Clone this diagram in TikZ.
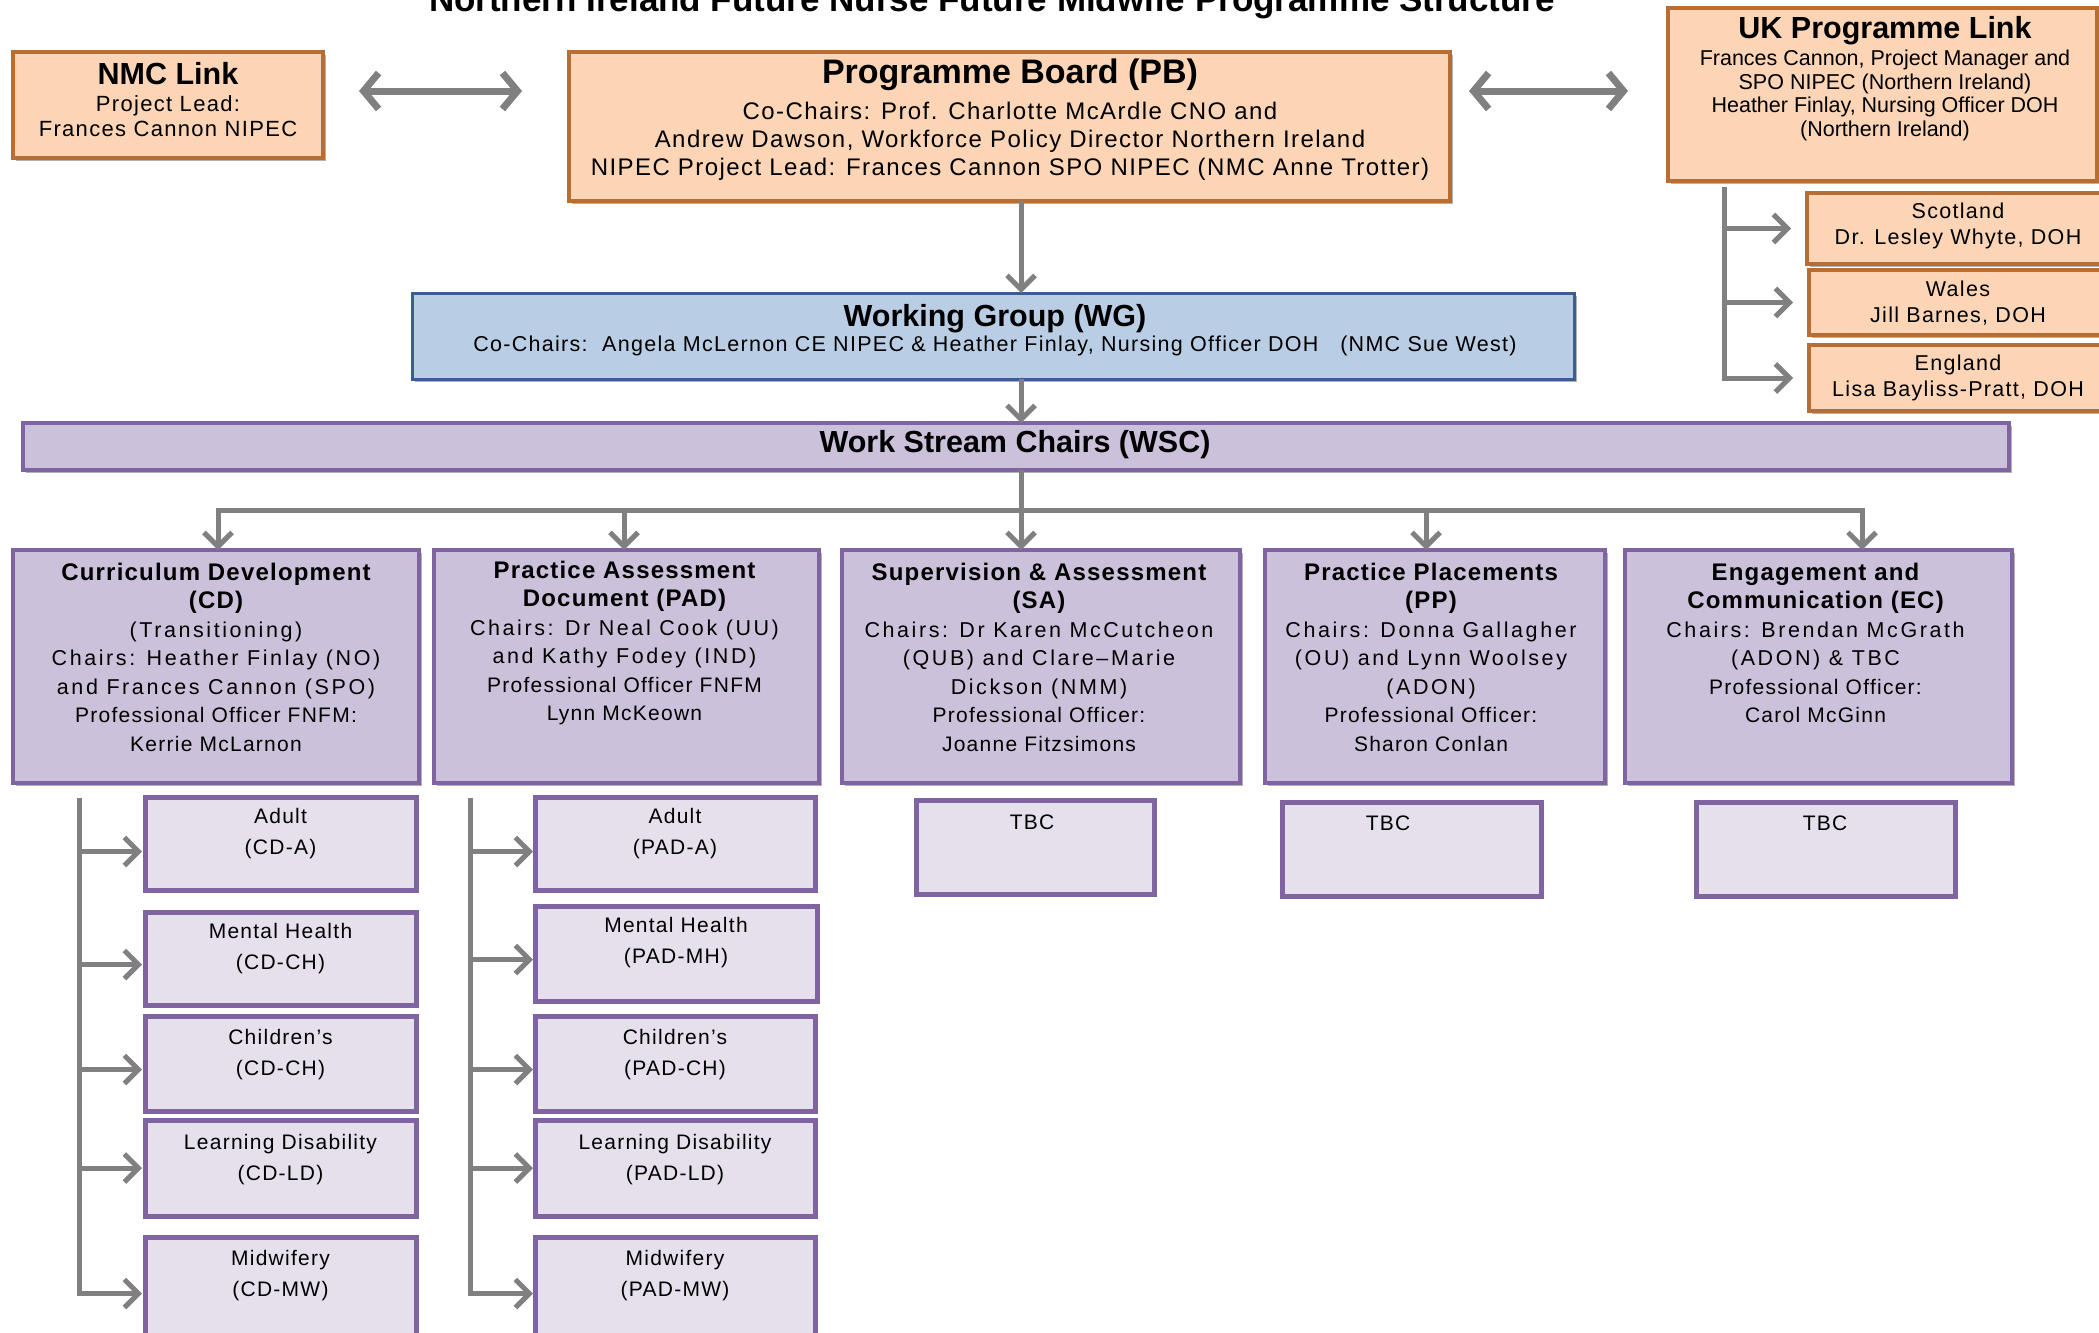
\documentclass[tikz,border=0pt]{standalone}
\usepackage{fontspec}
\setmainfont{Liberation Sans}
\newfontfamily\fnHd{Liberation Sans}[LetterSpace=5]
\newfontfamily\fnCh{Liberation Sans}[LetterSpace=12]
\newfontfamily\fnPo{Liberation Sans}[LetterSpace=6]
\usetikzlibrary{arrows.meta,calc,shadows}

\definecolor{orfill}{HTML}{FBD5B5}
\definecolor{ordraw}{HTML}{B86E33}
\definecolor{blfill}{HTML}{B9CDE5}
\definecolor{bldraw}{HTML}{3A5F8E}
\definecolor{pufill}{HTML}{CCC1DA}
\definecolor{pudraw}{HTML}{8064A2}
\definecolor{sufill}{HTML}{E5E0EC}
\definecolor{argray}{HTML}{808080}

\newcommand\bx[6]{\node[#2, minimum width={#5-#3}, minimum height={#6-#4}] (#1) at ({(#3+#5)/2},{(#4+#6)/2}) {};}
\newcommand\lnH[1]{{\fnHd\bfseries\fontsize{24}{28.5}\selectfont #1}}
\newcommand\lnC[1]{{\fnCh\fontsize{21.5}{28.5}\selectfont #1}}
\newcommand\lnP[1]{{\fnPo\fontsize{21}{28.5}\selectfont #1}}

\begin{document}
\begin{tikzpicture}[x=1pt,y=-1pt,
  shd/.style={drop shadow={shadow xshift=2.5pt,shadow yshift=-2.5pt,opacity=0.3,fill=black}},
  bxbase/.style={rectangle, inner sep=0pt, outer sep=0pt, shd},
  obox/.style={bxbase, fill=orfill, draw=ordraw, line width=3.5pt},
  bbox/.style={bxbase, fill=blfill, draw=bldraw, line width=3pt},
  pbox/.style={bxbase, fill=pufill, draw=pudraw, line width=4pt},
  sbox/.style={bxbase, fill=sufill, draw=pudraw, line width=5pt},
  txt/.style={inner sep=0pt, outer sep=0pt, align=center, text=black},
  conn/.style={draw=argray, line width=5pt},
  arr/.style={conn, -{Straight Barb[length=14pt,width=28pt]}},
  darr/.style={draw=argray, line width=7pt, {Straight Barb[length=15pt,width=36pt]}-{Straight Barb[length=15pt,width=36pt]}},
  hd/.style={txt, font=\bfseries\fontsize{30.5}{34}\selectfont}
]
\fill[white] (0,0) rectangle (2099,1333);
\useasboundingbox (0,0) rectangle (2099,1333);

% title
\node[txt, anchor=base, font=\bfseries\fontsize{35}{40}\selectfont] (title) at (992,12) {Northern Ireland Future Nurse Future Midwife Programme Structure};

% top row
\bx{nmc}{obox}{13}{52}{323}{158}
\bx{pb}{obox}{569}{52}{1450}{201}
\bx{uk}{obox}{1668}{8}{2097}{181}
\bx{sco}{obox}{1807}{193}{2112}{264}
\bx{wal}{obox}{1809}{270}{2112}{335}
\bx{eng}{obox}{1809}{345}{2112}{411}

\node[hd] (nmch) at (168,74) {NMC Link};
\node[txt, anchor=north, font=\fnPo\fontsize{22}{25}\selectfont] (nmcb) at (168,96) {Project Lead:\\Frances Cannon NIPEC};

\node[txt, font=\bfseries\fontsize{34}{38}\selectfont] (pbh) at (1010,75) {Programme Board (PB)};
\node[txt, anchor=north, font=\fnPo\fontsize{24}{28}\selectfont] (pbb) at (1010,102) {Co-Chairs: Prof. Charlotte McArdle CNO and\\Andrew Dawson, Workforce Policy Director Northern Ireland\\NIPEC Project Lead: Frances Cannon SPO NIPEC (NMC Anne Trotter)};

\node[hd] (ukh) at (1885,31) {UK Programme Link};
\node[txt, anchor=north, font=\fontsize{21.5}{23.5}\selectfont] (ukb) at (1885,50) {Frances Cannon, Project Manager and\\SPO NIPEC (Northern Ireland)\\Heather Finlay, Nursing Officer DOH\\(Northern Ireland)};

\node[txt, anchor=north, font=\fnPo\fontsize{21.5}{25.5}\selectfont] (scot) at (1958,203) {Scotland\\Dr. Lesley Whyte, DOH};
\node[txt, anchor=north, font=\fnPo\fontsize{21.5}{25.5}\selectfont] (walt) at (1958,281) {Wales\\Jill Barnes, DOH};
\node[txt, anchor=north, font=\fnPo\fontsize{21.5}{25.5}\selectfont] (engt) at (1958,355) {England\\Lisa Bayliss-Pratt, DOH};

% working group and work stream chairs
\bx{wg}{bbox}{412}{293}{1574}{379}
\node[hd] (wgh) at (995,319) {Working Group (WG)};
\node[txt, font=\fnPo\fontsize{21.5}{25}\selectfont] (wgb) at (995,346) {Co-Chairs:\ \ Angela McLernon CE NIPEC \& Heather Finlay, Nursing Officer DOH\ \ \ (NMC Sue West)};

\bx{wsc}{pbox}{23}{423}{2009}{470}
\node[hd] (wsch) at (1015,445) {Work Stream Chairs (WSC)};

% work streams
\bx{cd}{pbox}{13}{550}{419}{783}
\bx{pad}{pbox}{434}{550}{819}{783}
\bx{sa}{pbox}{842}{550}{1240}{783}
\bx{pp}{pbox}{1265}{550}{1605}{783}
\bx{ec}{pbox}{1625}{550}{2012}{783}

\begin{scope}[every node/.append style={txt, anchor=north, font=\fontsize{21.5}{28.5}\selectfont}]
\node (cdt) at ($(cd.north)+(0,13)$) {\lnH{Curriculum Development}\\\lnH{(CD)}\\\lnC{(Transitioning)}\\\lnC{Chairs: Heather Finlay (NO)}\\\lnC{and Frances Cannon (SPO)}\\\lnP{Professional Officer FNFM:}\\\lnP{Kerrie McLarnon}};
\node (padt) at ($(pad.north)+(-2,11)$) {\lnH{Practice Assessment}\\\lnH{Document (PAD)}\\\lnC{Chairs: Dr Neal Cook (UU)}\\\lnC{and Kathy Fodey (IND)}\\\lnP{Professional Officer FNFM}\\\lnP{Lynn McKeown}};
\node (sat) at ($(sa.north)+(-2,13)$) {\lnH{Supervision \& Assessment}\\\lnH{(SA)}\\\lnC{Chairs: Dr Karen McCutcheon}\\\lnC{(QUB) and Clare–Marie}\\\lnC{Dickson (NMM)}\\\lnP{Professional Officer:}\\\lnP{Joanne Fitzsimons}};
\node (ppt) at ($(pp.north)+(-4,13)$) {\lnH{Practice Placements}\\\lnH{(PP)}\\\lnC{Chairs: Donna Gallagher}\\\lnC{(OU) and Lynn Woolsey}\\\lnC{(ADON)}\\\lnP{Professional Officer:}\\\lnP{Sharon Conlan}};
\node (ect) at ($(ec.north)+(-3,13)$) {\lnH{Engagement and}\\\lnH{Communication (EC)}\\\lnC{Chairs: Brendan McGrath}\\\lnC{(ADON) \& TBC}\\\lnP{Professional Officer:}\\\lnP{Carol McGinn}};
\end{scope}

% sub boxes
\bx{cda}{sbox}{145}{797}{416}{890}
\bx{cdm}{sbox}{145}{912}{416}{1005}
\bx{cdc}{sbox}{145}{1016}{416}{1111}
\bx{cdl}{sbox}{145}{1120}{416}{1216}
\bx{cdw}{sbox}{145}{1237}{416}{1350}
\bx{pada}{sbox}{535}{797}{815}{890}
\bx{padm}{sbox}{535}{906}{817}{1001}
\bx{padc}{sbox}{535}{1016}{815}{1111}
\bx{padl}{sbox}{535}{1120}{815}{1216}
\bx{padw}{sbox}{535}{1237}{815}{1350}
\bx{satbc}{sbox}{916}{800}{1154}{894}
\bx{pptbc}{sbox}{1282}{802}{1541}{896}
\bx{ectbc}{sbox}{1696}{802}{1955}{896}

\begin{scope}[every node/.append style={txt, anchor=north, font=\fnPo\fontsize{21}{31}\selectfont}]
\node (cdat) at ($(cda.north)+(0,11)$) {Adult\\(CD-A)};
\node (cdmt) at ($(cdm.north)+(0,11)$) {Mental Health\\(CD-CH)};
\node (cdct) at ($(cdc.north)+(0,13)$) {Children’s\\(CD-CH)};
\node (cdlt) at ($(cdl.north)+(0,14)$) {Learning Disability\\(CD-LD)};
\node (cdwt) at ($(cdw.north)+(0,13)$) {Midwifery\\(CD-MW)};
\node (padat) at ($(pada.north)+(0,11)$) {Adult\\(PAD-A)};
\node (padmt) at ($(padm.north)+(0,11)$) {Mental Health\\(PAD-MH)};
\node (padct) at ($(padc.north)+(0,13)$) {Children’s\\(PAD-CH)};
\node (padlt) at ($(padl.north)+(0,14)$) {Learning Disability\\(PAD-LD)};
\node (padwt) at ($(padw.north)+(0,13)$) {Midwifery\\(PAD-MW)};
\end{scope}
\begin{scope}[every node/.append style={txt, font=\fnPo\fontsize{21}{25}\selectfont}]
\node (satbct) at (1032,822) {TBC};
\node (pptbct) at (1388,823) {TBC};
\node (ectbct) at (1825,823) {TBC};
\end{scope}

% connectors
\coordinate (l1) at (359,91);
\coordinate (l2) at (522,91);
\coordinate (r1) at (1469,91);
\coordinate (r2) at (1628,91);
\draw[darr] (l1) -- (l2);
\draw[darr] (r1) -- (r2);

\coordinate (spine) at (1021,0);
\draw[arr] (pb.south -| spine) -- (wg.north -| spine);
\draw[arr] (wg.south -| spine) -- (wsc.north -| spine);
\coordinate (busM) at (1021,510);
\coordinate (busL) at (218,510);
\coordinate (busB) at (624,510);
\coordinate (busD) at (1426,510);
\coordinate (busR) at (1862,510);
\draw[conn] (wsc.south -| spine) -- (busM);
\draw[arr] (busM) -| (busL |- cd.north);
\draw[arr] (busM) -| (busR |- ec.north);
\draw[arr] (busB) -- (busB |- pad.north);
\draw[arr] (busM) -- (busM |- sa.north);
\draw[arr] (busD) -- (busD |- pp.north);

% UK tree
\coordinate (uktop) at (1724,187);
\draw[arr, shorten >=16pt] (uktop) |- (eng.west);
\draw[arr, shorten >=16pt] (uktop |- sco.west) -- (sco.west);
\draw[arr, shorten >=16pt] (uktop |- wal.west) -- (wal.west);

% CD tree
\coordinate (cdtop) at (79,798);
\coordinate (cdaP) at ([yshift=-8pt]cda.west);
\coordinate (cdmP) at ([yshift=-6pt]cdm.west);
\coordinate (cdcP) at ([yshift=-6pt]cdc.west);
\draw[arr, shorten >=3pt] (cdtop) |- (cdw.west);
\draw[arr, shorten >=3pt] (cdtop |- cdaP) -- (cdaP);
\draw[arr, shorten >=3pt] (cdtop |- cdmP) -- (cdmP);
\draw[arr, shorten >=3pt] (cdtop |- cdcP) -- (cdcP);
\draw[arr, shorten >=3pt] (cdtop |- cdl.west) -- (cdl.west);

% PAD tree
\coordinate (padtop) at (470,798);
\coordinate (padaP) at ([yshift=-8pt]pada.west);
\coordinate (padmP) at ([yshift=-6pt]padm.west);
\coordinate (padcP) at ([yshift=-6pt]padc.west);
\draw[arr, shorten >=2pt] (padtop) |- (padw.west);
\draw[arr, shorten >=2pt] (padtop |- padaP) -- (padaP);
\draw[arr, shorten >=2pt] (padtop |- padmP) -- (padmP);
\draw[arr, shorten >=2pt] (padtop |- padcP) -- (padcP);
\draw[arr, shorten >=2pt] (padtop |- padl.west) -- (padl.west);
\end{tikzpicture}
\end{document}
